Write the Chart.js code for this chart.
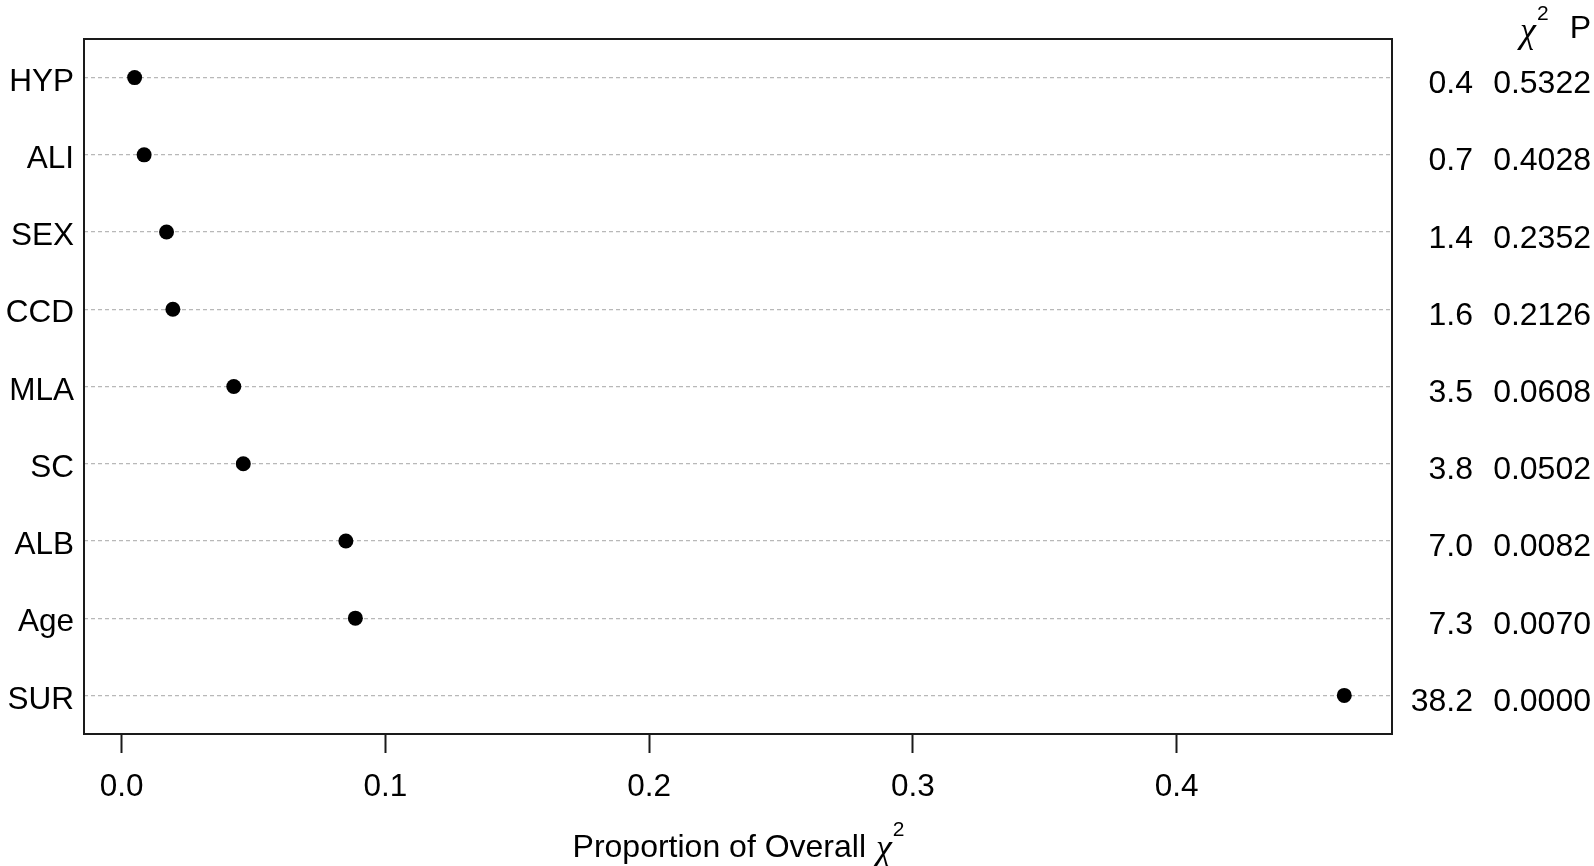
<!DOCTYPE html>
<html>
<head>
<meta charset="utf-8">
<script src="https://cdn.jsdelivr.net/npm/chart.js@4.4.1/dist/chart.umd.min.js"></script>
<style>
  html, body { margin: 0; padding: 0; background: #fff; }
  #wrap { width: 1594px; height: 866px; }
</style>
</head>
<body>
<div id="wrap"><canvas id="c" width="1594" height="866"></canvas></div>
<script>
const categories = ['HYP', 'ALI', 'SEX', 'CCD', 'MLA', 'SC', 'ALB', 'Age', 'SUR'];
const proportions = [0.0049, 0.0085, 0.0170, 0.0194, 0.0425, 0.0461, 0.0850, 0.0886, 0.4636];
const chiSquare = ['0.4', '0.7', '1.4', '1.6', '3.5', '3.8', '7.0', '7.3', '38.2'];
const pValues = ['0.5322', '0.4028', '0.2352', '0.2126', '0.0608', '0.0502', '0.0082', '0.0070', '0.0000'];
const xTickValues = [0.0, 0.1, 0.2, 0.3, 0.4];
const xTitle = 'Proportion of Overall ';

const FONT = '"Liberation Sans", Arial, Helvetica, sans-serif';
const CHI_FONT = 'italic 36px "Liberation Serif", "DejaVu Serif", serif';
const SUP_FONT = '21px "Liberation Sans", Arial, sans-serif';

const extras = {
  id: 'extras',
  afterDraw(chart) {
    const ctx = chart.ctx;
    const a = chart.chartArea;
    const ys = chart.scales.y;
    ctx.save();
    // plot frame
    ctx.strokeStyle = '#1a1a1a';
    ctx.lineWidth = 2;
    ctx.strokeRect(a.left, a.top, a.right - a.left, a.bottom - a.top);

    // right-hand columns
    ctx.fillStyle = '#000';
    ctx.font = '32px ' + FONT;
    ctx.textBaseline = 'alphabetic';
    ctx.textAlign = 'right';
    categories.forEach((c, i) => {
      const y = ys.getPixelForValue(i) + 15.5;
      ctx.fillText(chiSquare[i], 1473, y);
      ctx.fillText(pValues[i], 1591, y);
    });

    // header
    ctx.textAlign = 'right';
    ctx.font = '32px ' + FONT;
    ctx.fillText('P', 1591, 38);
    ctx.textAlign = 'left';
    ctx.font = CHI_FONT;
    ctx.fillText('\u03C7', 1520, 42);
    ctx.font = SUP_FONT;
    ctx.fillText('2', 1537, 20);

    // x-axis title
    ctx.font = '32px ' + FONT;
    const w1 = ctx.measureText(xTitle).width;
    ctx.font = CHI_FONT;
    const w2 = ctx.measureText('\u03C7').width;
    ctx.font = SUP_FONT;
    const w3 = ctx.measureText('2').width;
    const cx = (a.left + a.right) / 2;
    let x0 = cx - (w1 + w2 + w3 + 1) / 2;
    const by = 857;
    ctx.textAlign = 'left';
    ctx.font = '32px ' + FONT;
    ctx.fillText(xTitle, x0, by);
    ctx.font = CHI_FONT;
    ctx.fillText('\u03C7', x0 + w1 + 1, by + 2);
    ctx.font = SUP_FONT;
    ctx.fillText('2', x0 + w1 + w2 + 2, by - 21);
    ctx.restore();
  }
};

new Chart(document.getElementById('c'), {
  type: 'scatter',
  data: {
    datasets: [{
      data: categories.map((c, i) => ({ x: proportions[i], y: c })),
      pointRadius: 7.5,
      pointHoverRadius: 7.5,
      backgroundColor: '#000',
      borderColor: '#000',
      borderWidth: 0
    }]
  },
  options: {
    responsive: false,
    animation: false,
    events: [],
    layout: { padding: { top: 39, right: 202, left: 0, bottom: 0 } },
    plugins: { legend: { display: false }, tooltip: { enabled: false } },
    scales: {
      x: {
        type: 'linear',
        min: -0.0143,
        max: 0.4817,
        afterBuildTicks: s => { s.ticks = xTickValues.map(v => ({ value: v })); },
        afterFit: s => { s.height = 132; },
        ticks: {
          callback: v => Number(v).toFixed(1),
          font: { family: FONT, size: 31.5 },
          color: '#000',
          padding: 15,
          maxRotation: 0,
          autoSkip: false
        },
        grid: {
          drawOnChartArea: false,
          drawTicks: true,
          tickLength: 19,
          tickColor: '#1a1a1a',
          tickWidth: 2
        },
        border: { display: false }
      },
      y: {
        type: 'category',
        labels: categories,
        offset: true,
        afterFit: s => { s.width = 84; },
        ticks: {
          font: { family: FONT, size: 31.5 },
          color: '#000',
          padding: 10,
          labelOffset: 4.5,
          autoSkip: false
        },
        grid: {
          offset: false,
          drawTicks: false,
          color: '#b8b8b8',
          lineWidth: 1.2
        },
        border: { display: false, dash: [4, 3] }
      }
    }
  },
  plugins: [extras]
});
</script>
</body>
</html>
